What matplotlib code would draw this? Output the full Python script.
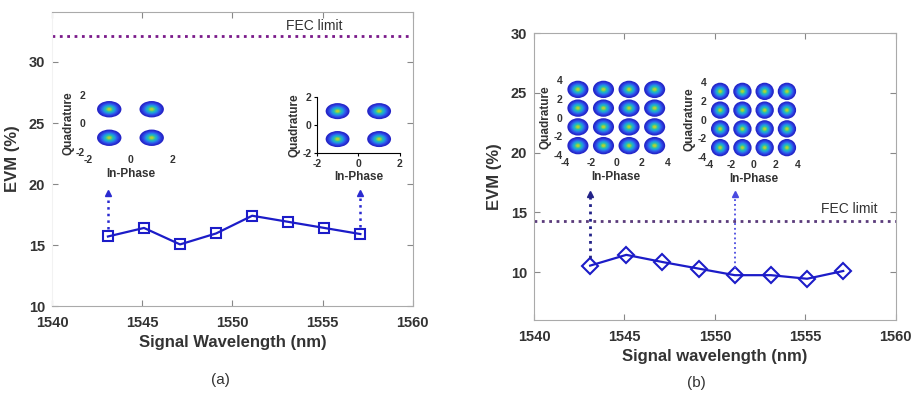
import matplotlib.pyplot as plt
import numpy as np
from matplotlib.colors import LinearSegmentedColormap
from matplotlib.patches import Ellipse

plt.rcParams['font.family'] = ['Liberation Sans', 'DejaVu Sans']
plt.rcParams['axes.unicode_minus'] = False

# --- Data ---
wl = [1543.1, 1545.1, 1547.1, 1549.1, 1551.1, 1553.1, 1555.1, 1557.1]
evm_a = [15.7, 16.4, 15.05, 15.95, 17.4, 16.9, 16.4, 15.9]
evm_b = [10.55, 11.45, 10.85, 10.3, 9.75, 9.75, 9.45, 10.1]
fec_a = 32.1
fec_b = 14.3
arrow_tip_a = 19.3
arrow_tip_b = 16.5
qpsk_levels = [-1, 1]
qam16_levels = [-3, -1, 1, 3]

# --- Style ---
txt = '#333333'
line_blue = '#1c1cc8'
parula = LinearSegmentedColormap.from_list(
    'parula', ['#2424c8', '#2f55ee', '#1e9be0', '#25c0b0', '#9fd23c', '#e0d32a'])


def style_main(ax, ylim, left_spine):
    ax.set_xlim(1540, 1560)
    ax.set_ylim(*ylim)
    ax.set_xticks([1540, 1545, 1550, 1555, 1560])
    ax.set_yticks([10, 15, 20, 25, 30])
    ax.tick_params(direction='in', top=True, right=True, length=4,
                   color='#888888', labelsize=10.5, labelcolor=txt)
    ax.tick_params(axis='x', pad=7)
    ax.tick_params(axis='y', pad=5)
    for lab in ax.get_xticklabels() + ax.get_yticklabels():
        lab.set_fontweight('bold')
    for side in ['top', 'right', 'bottom', 'left']:
        ax.spines[side].set_color('#aaaaaa')
        ax.spines[side].set_linewidth(0.8)
    if not left_spine:
        ax.spines['left'].set_color('#f2f2f2')
    ax.set_ylabel('EVM (%)', fontsize=12, fontweight='bold', color=txt, labelpad=6)


def constellation(ax, levels, w, h, lim, spines=False):
    for xi in levels:
        for yi in levels:
            for f in np.linspace(1.0, 0.15, 9):
                ax.add_patch(Ellipse((xi, yi), w * f, h * f,
                                     color=parula((1 - f) ** 1.3 * 1.05), lw=0))
    ax.set_xlim(-lim, lim)
    ax.set_ylim(-lim, lim)
    ticks = np.arange(-lim, lim + 1, 2)
    ax.set_xticks(ticks)
    ax.set_yticks(ticks)
    ax.tick_params(length=2 if spines else 0, labelsize=7.5, labelcolor=txt, pad=2)
    for lab in ax.get_xticklabels() + ax.get_yticklabels():
        lab.set_fontweight('bold')
    ax.set_xlabel('In-Phase', fontsize=8.5, fontweight='bold', color=txt, labelpad=2)
    ax.set_ylabel('Quadrature', fontsize=8.5, fontweight='bold', color=txt, labelpad=1)
    for side in ['top', 'right']:
        ax.spines[side].set_visible(False)
    for side in ['left', 'bottom']:
        ax.spines[side].set_visible(spines)
    ax.patch.set_alpha(0)


def arrow(ax, x, y0, y1, color, lw):
    ax.plot([x, x], [y0, y1], ls=':', color=color, lw=lw)
    ax.plot([x], [y1], marker='^', color=color, markersize=4)


fig = plt.figure(figsize=(9.13, 3.99), dpi=100)

# ---- Panel (a) ----
ax1 = fig.add_axes([0.057, 0.233, 0.395, 0.737])
style_main(ax1, (10, 34.1), left_spine=False)
ax1.axhline(fec_a, color='#7a1a8a', ls=':', lw=2)
ax1.text(1556.1, fec_a + 0.3, 'FEC limit', ha='right', va='bottom',
         fontsize=10, color=txt)
ax1.plot(wl, evm_a, color=line_blue, lw=1.6, marker='s', markersize=7,
         markerfacecolor='none', markeredgecolor=line_blue, markeredgewidth=1.5)
arrow(ax1, wl[0], evm_a[0] + 0.6, arrow_tip_a, '#2a2ad0', 1.8)
arrow(ax1, wl[-1], evm_a[-1] + 0.6, arrow_tip_a, '#2a2ad0', 1.8)
ax1.set_xlabel('Signal Wavelength (nm)', fontsize=12, fontweight='bold',
               color=txt, labelpad=4)

in1 = fig.add_axes([0.0964, 0.619, 0.093, 0.143])
constellation(in1, qpsk_levels, 1.15, 1.15, 2)
in2 = fig.add_axes([0.347, 0.6165, 0.091, 0.140])
constellation(in2, qpsk_levels, 1.15, 1.15, 2, spines=True)

# ---- Panel (b) ----
ax2 = fig.add_axes([0.585, 0.198, 0.396, 0.719])
style_main(ax2, (6, 30), left_spine=True)
ax2.axhline(fec_b, color='#5a3a7a', ls=':', lw=2)
ax2.text(1559.0, fec_b + 0.4, 'FEC limit', ha='right', va='bottom',
         fontsize=10, color=txt)
ax2.plot(wl, evm_b, color=line_blue, lw=1.6, marker='D', markersize=8,
         markerfacecolor='none', markeredgecolor=line_blue, markeredgewidth=1.5)
arrow(ax2, wl[0], evm_b[0] + 0.6, arrow_tip_b, '#222288', 2.0)
arrow(ax2, wl[4], evm_b[4] + 0.6, arrow_tip_b, '#4a4ae0', 1.3)
ax2.set_xlabel('Signal wavelength (nm)', fontsize=12, fontweight='bold',
               color=txt, labelpad=4)

in3 = fig.add_axes([0.619, 0.6115, 0.112, 0.188])
constellation(in3, qam16_levels, 1.65, 1.85, 4)
in4 = fig.add_axes([0.7766, 0.6065, 0.0975, 0.188])
constellation(in4, qam16_levels, 1.65, 1.85, 4)

fig.text(0.241, 0.048, '(a)', ha='center', va='center', fontsize=11, color=txt)
fig.text(0.763, 0.040, '(b)', ha='center', va='center', fontsize=11, color=txt)

fig.savefig('out.png', dpi=100)
